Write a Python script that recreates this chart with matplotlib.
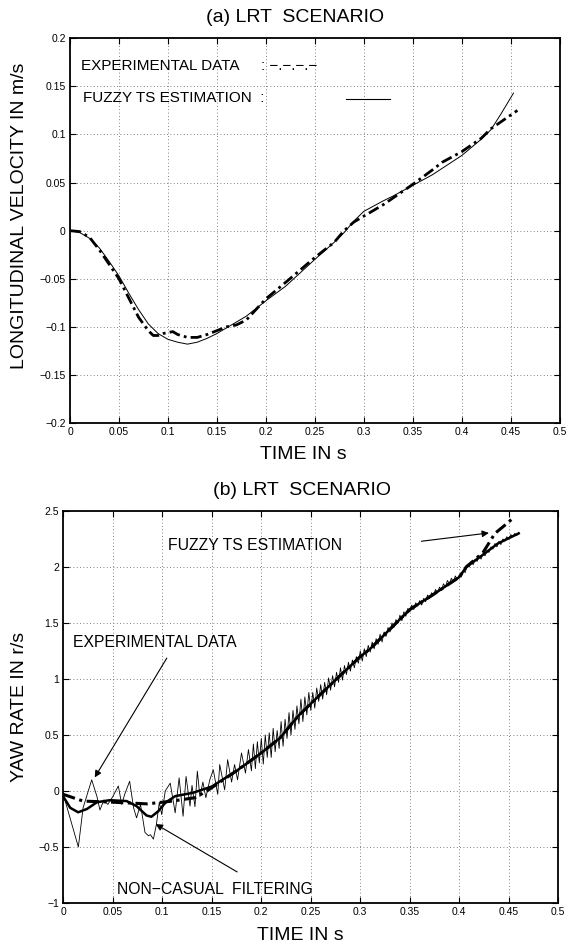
import numpy as np
import matplotlib
matplotlib.use("Agg")
import matplotlib.pyplot as plt

plt.rcParams['font.family'] = ['Liberation Sans', 'DejaVu Sans']

# ---- (a) longitudinal velocity ----
t_exp_a = [0, 0.01, 0.02, 0.03, 0.04, 0.05, 0.06, 0.07, 0.08, 0.085, 0.09, 0.095, 0.1, 0.105,
           0.11, 0.12, 0.13, 0.14, 0.15, 0.16, 0.17, 0.18, 0.2, 0.22, 0.25, 0.27, 0.28, 0.29,
           0.3, 0.32, 0.35, 0.37, 0.38, 0.4, 0.42, 0.43, 0.44, 0.457]
v_exp_a = [0, -0.001, -0.007, -0.02, -0.035, -0.05, -0.07, -0.09, -0.104, -0.109, -0.109, -0.107,
           -0.106, -0.105, -0.108, -0.111, -0.111, -0.108, -0.104, -0.1, -0.098, -0.093, -0.071,
           -0.054, -0.028, -0.012, 0.0, 0.009, 0.015, 0.027, 0.048, 0.063, 0.071, 0.082, 0.096,
           0.106, 0.113, 0.125]

t_fuz_a = [0, 0.01, 0.02, 0.03, 0.04, 0.05, 0.06, 0.07, 0.08, 0.09, 0.1, 0.11, 0.12, 0.13, 0.14,
           0.15, 0.16, 0.18, 0.2, 0.22, 0.25, 0.27, 0.28, 0.29, 0.3, 0.32, 0.33, 0.35, 0.37, 0.4,
           0.42, 0.43, 0.44, 0.453]
v_fuz_a = [0, -0.002, -0.008, -0.018, -0.032, -0.047, -0.065, -0.082, -0.097, -0.107, -0.113,
           -0.116, -0.118, -0.116, -0.112, -0.107, -0.101, -0.089, -0.073, -0.058, -0.030, -0.012,
           -0.002, 0.010, 0.020, 0.031, 0.036, 0.047, 0.058, 0.078, 0.095, 0.105, 0.121, 0.143]

# ---- (b) yaw rate ----
# raw measurement, start (irregular wiggles read off the picture)
t_exp_b0 = [0, 0.0152, 0.020, 0.0287, 0.034, 0.037, 0.041, 0.045, 0.050, 0.0556, 0.059, 0.062,
            0.067, 0.071, 0.074, 0.078, 0.0825, 0.086, 0.088, 0.091, 0.094, 0.097, 0.0994, 0.103,
            0.108, 0.113, 0.117, 0.121, 0.124, 0.128, 0.130, 0.133, 0.1354, 0.138, 0.141, 0.144,
            0.148, 0.1515, 0.156, 0.158, 0.163, 0.166, 0.170, 0.173, 0.176, 0.180, 0.184, 0.187]
v_exp_b0 = [-0.03, -0.5, -0.15, 0.10, -0.05, -0.17, -0.08, -0.12, -0.05, 0.045, -0.12, -0.03,
            0.087, -0.15, -0.24, -0.12, -0.37, -0.40, -0.39, -0.43, -0.3, -0.1, -0.21, 0.0,
            0.07, -0.195, 0.117, -0.225, 0.13, -0.135, 0.05, -0.14, 0.177, -0.05, 0.08, -0.06,
            0.1, 0.19, -0.03, 0.236, 0.01, 0.28, 0.08, 0.236, 0.1, 0.34, 0.16, 0.37]
# raw measurement, rest (sampled every 2 ms from 0.190 s to 0.460 s)
t_exp_b1 = np.round(np.arange(0.190, 0.4605, 0.002), 3)
v_exp_b1 = [0.18, 0.42, 0.20, 0.44, 0.25,
            0.47, 0.24, 0.50, 0.30, 0.52,
            0.30, 0.56, 0.35, 0.54, 0.38,
            0.62, 0.40, 0.64, 0.47, 0.70,
            0.50, 0.72, 0.55, 0.76, 0.60,
            0.82, 0.62, 0.84, 0.68, 0.88,
            0.72, 0.88, 0.74, 0.92, 0.80,
            0.95, 0.82, 0.97, 0.86, 1.01,
            0.90, 1.03, 0.93, 1.06, 0.97,
            1.10, 0.99, 1.12, 1.04, 1.15,
            1.07, 1.17, 1.10, 1.20, 1.14,
            1.25, 1.16, 1.27, 1.20, 1.30,
            1.24, 1.33, 1.27, 1.36, 1.31,
            1.40, 1.33, 1.42, 1.38, 1.46,
            1.42, 1.50, 1.46, 1.53, 1.50,
            1.57, 1.52, 1.60, 1.56, 1.63,
            1.60, 1.66, 1.62, 1.68, 1.65,
            1.70, 1.66, 1.72, 1.69, 1.75,
            1.72, 1.77, 1.75, 1.80, 1.77,
            1.82, 1.79, 1.85, 1.82, 1.88,
            1.85, 1.90, 1.87, 1.92, 1.89,
            1.93, 1.91, 1.97, 1.95, 2.02,
            2.00, 2.05, 2.02, 2.07, 2.05,
            2.10, 2.07, 2.12, 2.10, 2.15,
            2.13, 2.18, 2.16, 2.21, 2.18,
            2.23, 2.20, 2.25, 2.23, 2.27,
            2.25, 2.29, 2.27, 2.30, 2.28,
            2.31]

t_filt_b = [0, 0.007, 0.015, 0.024, 0.034, 0.047, 0.064, 0.074, 0.084, 0.089, 0.096, 0.103,
            0.113, 0.131, 0.15, 0.175, 0.2, 0.219, 0.237, 0.25, 0.276, 0.3, 0.31, 0.35, 0.373,
            0.4, 0.407, 0.424, 0.439, 0.46]
v_filt_b = [-0.05, -0.15, -0.19, -0.16, -0.10, -0.082, -0.09, -0.135, -0.218, -0.23, -0.18,
            -0.105, -0.046, -0.016, 0.04, 0.18, 0.34, 0.474, 0.667, 0.78, 1.0, 1.2, 1.27, 1.62,
            1.75, 1.91, 2.0, 2.11, 2.21, 2.3]

t_fuz_b = [0, 0.02, 0.05, 0.085, 0.11, 0.133, 0.145, 0.175, 0.2, 0.219, 0.237, 0.25, 0.276,
           0.3, 0.31, 0.35, 0.373, 0.4, 0.407, 0.424, 0.436, 0.447, 0.456]
v_fuz_b = [-0.03, -0.09, -0.10, -0.115, -0.09, -0.06, 0.0, 0.18, 0.34, 0.474, 0.667, 0.78,
           1.0, 1.2, 1.27, 1.62, 1.75, 1.91, 2.0, 2.13, 2.30, 2.38, 2.45]

xticks = [0, 0.05, 0.1, 0.15, 0.2, 0.25, 0.3, 0.35, 0.4, 0.45, 0.5]
xticklabels = ['0', '0.05', '0.1', '0.15', '0.2', '0.25', '0.3', '0.35', '0.4', '0.45', '0.5']
yticks_a = [-0.2, -0.15, -0.1, -0.05, 0, 0.05, 0.1, 0.15, 0.2]
yticklabels_a = ['\u22120.2', '\u22120.15', '\u22120.1', '\u22120.05', '0', '0.05', '0.1', '0.15', '0.2']
yticks_b = [-1, -0.5, 0, 0.5, 1, 1.5, 2, 2.5]
yticklabels_b = ['\u22121', '\u22120.5', '0', '0.5', '1', '1.5', '2', '2.5']

fig = plt.figure(figsize=(5.67, 9.48), dpi=100)
W, H = 567.0, 948.0

ax1 = fig.add_axes([70 / W, 1 - 423 / H, 489.5 / W, 384.7 / H])
ax2 = fig.add_axes([63.3 / W, 1 - 903 / H, 495 / W, 392 / H])

dashdot = (0, (4, 1.5, 1, 1.5))


def style(ax, xt, xl, yt, yl, xlim, ylim):
    ax.set_xlim(*xlim)
    ax.set_ylim(*ylim)
    ax.set_xticks(xt)
    ax.set_xticklabels(xl)
    ax.set_yticks(yt)
    ax.set_yticklabels(yl)
    ax.tick_params(direction='in', length=4, width=0.8, top=True, right=True, labelsize=7.5, pad=3)
    ax.grid(True, color='0.35', linestyle=(0, (1, 3)), linewidth=0.6)
    for s in ax.spines.values():
        s.set_linewidth(1.3)


# (a)
ax1.plot(t_fuz_a, v_fuz_a, color='black', linewidth=0.7)
ax1.plot(t_exp_a, v_exp_a, color='black', linewidth=2.0, linestyle=dashdot)
style(ax1, xticks, xticklabels, yticks_a, yticklabels_a, (0, 0.5), (-0.2, 0.2))
ax1.text(0.011, 0.171, 'EXPERIMENTAL DATA', fontsize=11, va='center')
ax1.text(0.195, 0.171, ': \u2212.\u2212.\u2212.\u2212', fontsize=11, va='center')
ax1.text(0.013, 0.138, 'FUZZY TS ESTIMATION  :', fontsize=11, va='center')
ax1.plot([0.282, 0.327], [0.137, 0.137], color='black', linewidth=0.8)

fig.text(295 / W, 1 - 18 / H, '(a) LRT  SCENARIO', fontsize=14, ha='center', va='center')
fig.text(303 / W, 1 - 454 / H, 'TIME IN s', fontsize=14, ha='center', va='center')
fig.text(20 / W, 1 - 216 / H, 'LONGITUDINAL VELOCITY IN m/s', fontsize=14, rotation=90,
         ha='center', va='center')

# (b)
ax2.plot(list(t_exp_b0) + list(t_exp_b1), v_exp_b0 + v_exp_b1, color='black', linewidth=0.6)
ax2.plot(t_filt_b, v_filt_b, color='black', linewidth=1.8)
ax2.plot(t_fuz_b, v_fuz_b, color='black', linewidth=2.2, linestyle=dashdot)
style(ax2, xticks, xticklabels, yticks_b, yticklabels_b, (0, 0.5), (-1, 2.5))

ax2.text(0.106, 2.19, 'FUZZY TS ESTIMATION', fontsize=11.3, va='center')
ax2.annotate('', xy=(0.4327, 2.307), xytext=(0.359, 2.227),
             arrowprops=dict(arrowstyle='-|>', color='black', lw=0.8, mutation_scale=10))
ax2.text(0.0095, 1.326, 'EXPERIMENTAL DATA', fontsize=11.3, va='center')
ax2.annotate('', xy=(0.0303, 0.10), xytext=(0.106, 1.208),
             arrowprops=dict(arrowstyle='-|>', color='black', lw=0.8, mutation_scale=10))
ax2.text(0.0547, -0.878, 'NON\u2212CASUAL  FILTERING', fontsize=11.3, va='center')
ax2.annotate('', xy=(0.0909, -0.283), xytext=(0.178, -0.735),
             arrowprops=dict(arrowstyle='-|>', color='black', lw=0.8, mutation_scale=10))

fig.text(302 / W, 1 - 491 / H, '(b) LRT  SCENARIO', fontsize=14, ha='center', va='center')
fig.text(300 / W, 1 - 935 / H, 'TIME IN s', fontsize=14, ha='center', va='center')
fig.text(20 / W, 1 - 707 / H, 'YAW RATE IN r/s', fontsize=14, rotation=90,
         ha='center', va='center')

fig.savefig('out.png', dpi=100)
